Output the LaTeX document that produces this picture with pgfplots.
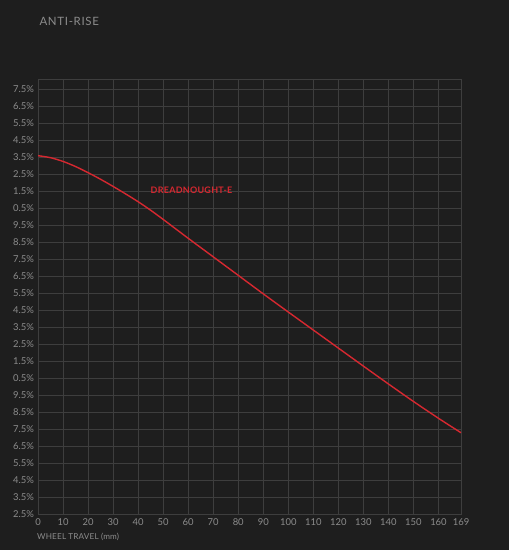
\documentclass[border=0pt]{standalone}
\usepackage{pgfplots}
\pgfplotsset{compat=1.18}
\usepackage{fontspec}
\setmainfont{Lato}
\definecolor{bgc}{HTML}{1E1E1E}
\definecolor{gridc}{HTML}{3E3E3E}
\definecolor{txtc}{HTML}{8C8C8C}
\definecolor{redc}{HTML}{D62830}
\begin{document}
\begin{tikzpicture}[x=1bp,y=1bp]
\fill[bgc] (0,0) rectangle (509,550);
\node[anchor=west, text=txtc, font=\fontsize{11.5}{13}\selectfont\addfontfeatures{LetterSpace=6}] at (36,529) {ANTI-RISE};
\begin{axis}[
  at={(38bp,36bp)}, anchor=south west,
  scale only axis, width=423bp, height=435bp,
  xmin=0, xmax=169, ymin=0, ymax=25.59,
  xtick={0,10,20,30,40,50,60,70,80,90,100,110,120,130,140,150,160,169},
  ytick={0,1,...,25},
  yticklabels={2.5\%,3.5\%,4.5\%,5.5\%,6.5\%,7.5\%,8.5\%,9.5\%,0.5\%,1.5\%,2.5\%,3.5\%,4.5\%,5.5\%,6.5\%,7.5\%,8.5\%,9.5\%,0.5\%,1.5\%,2.5\%,3.5\%,4.5\%,5.5\%,6.5\%,7.5\%},
  /pgf/number format/assume math mode=true,
  xticklabel style={font=\fontsize{9.5}{11}\selectfont, text=txtc, yshift=-1bp},
  yticklabel style={font=\fontsize{9.5}{11}\selectfont, text=txtc, xshift=-0.5bp},
  major tick length=0pt,
  grid=major,
  major grid style={gridc, line width=0.9bp},
  axis line style={gridc, line width=0.9bp},
  clip=true,
]
\addplot[redc, line width=1.4bp, smooth, tension=0.5] coordinates {
(0,21.08) (5,20.96) (10,20.74) (15,20.44) (20,20.08) (25,19.69) (30,19.27) (35,18.83) (40,18.37)
(45,17.87) (50,17.33) (60,16.22) (70,15.13) (80,14.04) (90,12.95) (100,11.88) (110,10.82)
(120,9.76) (130,8.70) (140,7.65) (150,6.62) (160,5.63) (169,4.78)
};
\end{axis}
\node[anchor=base west, inner sep=0pt, text=redc, font=\bfseries\fontsize{9}{10}\selectfont\addfontfeatures{LetterSpace=3}] at (150.5,356.5) {DREADNOUGHT-E};
\node[anchor=west, inner sep=0pt, text=txtc, font=\fontsize{8.2}{10}\selectfont\addfontfeatures{LetterSpace=2}] at (37,13) {WHEEL TRAVEL (mm)};
\end{tikzpicture}
\end{document}
